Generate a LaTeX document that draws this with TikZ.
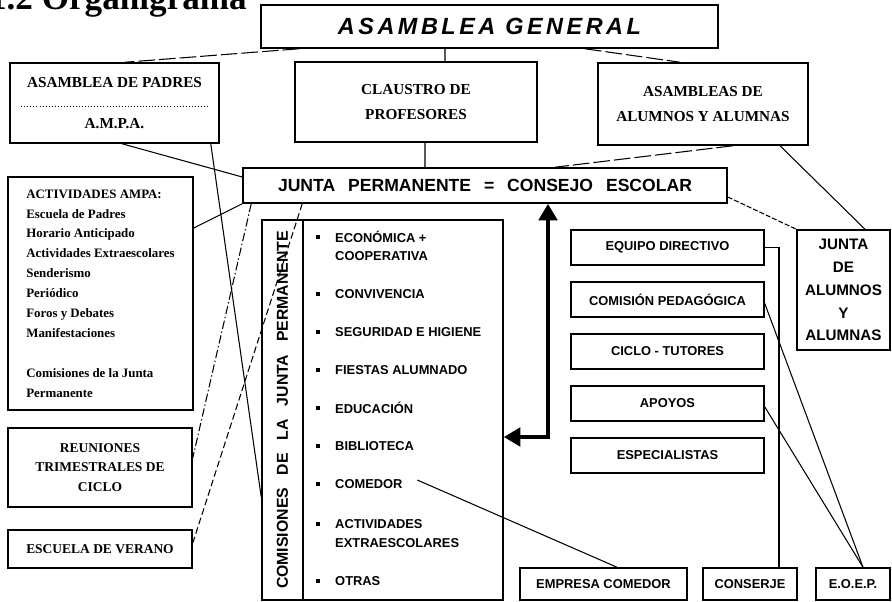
\documentclass[tikz,border=0pt]{standalone}
\usepackage{fontspec}
\setmainfont{Liberation Serif}
\setsansfont{Liberation Sans}
\newfontfamily\agfont[LetterSpace=15]{Liberation Sans}
\usepackage{tikz}
\usetikzlibrary{arrows.meta}

\tikzset{
  boxsize/.style 2 args={minimum width=#1*0.3mm, minimum height=#2*0.3mm},
  box/.style={draw, line width=1.3pt, inner sep=0pt, align=center},
  topbox/.style={box, font=\bfseries\fontsize{13}{21}\selectfont},
  leftbox/.style={box, font=\bfseries\fontsize{11.5}{16.5}\selectfont},
  sbox/.style={box, font=\sffamily\bfseries\fontsize{11}{13}\selectfont},
  item/.style={anchor=west, align=left, inner sep=0pt, font=\sffamily\bfseries\fontsize{11}{15.5}\selectfont},
  bullet/.style={fill, inner sep=0pt, minimum size=1.4mm},
  linea/.style={line width=0.9pt},
  largo/.style={linea, dash pattern=on 5mm off 1.2mm},
  corto/.style={linea, dash pattern=on 1.5mm off 0.6mm},
  trazos/.style={linea, dash pattern=on 2mm off 1mm},
  puntoraya/.style={linea, dash pattern=on 2.5mm off 0.8mm on 0.4mm off 0.8mm},
  flecha/.style={line width=1.3mm, arrows={Triangle[width=5.5mm,length=5mm]-Triangle[width=5.5mm,length=5mm]}}
}

\begin{document}
\begin{tikzpicture}[x=0.3mm, y=-0.3mm]
\useasboundingbox (0,0) rectangle (892,602);

% Title (cut at the top of the page)
\node[anchor=base east, inner sep=0pt, font=\bfseries\fontsize{30}{30}\selectfont] (titulo) at (247,10) {1.2 Organigrama};

% Upper level
\node[box, boxsize={457}{43}, font=\agfont\bfseries\itshape\fontsize{20}{20}\selectfont] (ag) at (489.5,26.5) {ASAMBLEA GENERAL};
\node[topbox, boxsize={209}{80}] (padres) at (114.5,103) {ASAMBLEA DE PADRES\\[14pt]A.M.P.A.};
\node[topbox, boxsize={242}{80}] (claustro) at (416,102) {CLAUSTRO DE\\PROFESORES};
\node[topbox, boxsize={210}{82}] (alumnos) at (703,104) {ASAMBLEAS DE\\ALUMNOS Y ALUMNAS};
\draw[dotted, line width=0.6pt] ([xshift=3.6mm,yshift=-0.9mm]padres.west) -- ([xshift=-3.6mm,yshift=-0.9mm]padres.east);

% Junta permanente
\node[box, boxsize={484}{35}, font=\sffamily\bfseries\fontsize{15}{15}\selectfont] (junta) at (485,185.5)
  {JUNTA\hspace{11pt}PERMANENTE\hspace{11pt}=\hspace{11pt}CONSEJO\hspace{11pt}ESCOLAR};

% Left column
\node[box, boxsize={185}{233}, align=left, font=\bfseries\fontsize{11}{17}\selectfont] (actividades) at (100.5,293.5)
  {ACTIVIDADES AMPA:\\Escuela de Padres\\Horario Anticipado\\Actividades Extraescolares\\Senderismo\\Periódico\\Foros y Debates\\Manifestaciones\\[17pt]Comisiones de la Junta\\Permanente};
\node[leftbox, boxsize={184}{79}] (reuniones) at (100,467.5) {REUNIONES\\TRIMESTRALES DE\\CICLO};
\node[leftbox, boxsize={184}{38}] (verano) at (100,549) {ESCUELA DE VERANO};

% Comisiones
\node[box, boxsize={41}{380}] (comlabel) at (282.5,410) {};
\node[box, boxsize={200}{380}] (comlist) at (403,410) {};
\node[rotate=90, inner sep=0pt, font=\sffamily\bfseries\fontsize{13.5}{13.5}\selectfont] (comtitulo) at (comlabel)
  {COMISIONES\hspace{11pt}DE\hspace{11pt}LA\hspace{11pt}JUNTA\hspace{11pt}PERMANENTE};
\foreach \name/\by/\ty/\txt in {
    economica/237/246/{ECONÓMICA +\\COOPERATIVA},
    convivencia/294/294/{CONVIVENCIA},
    seguridad/332/332/{SEGURIDAD E HIGIENE},
    fiestas/370/370/{FIESTAS ALUMNADO},
    educacion/408/408/{EDUCACIÓN},
    biblioteca/446/446/{BIBLIOTECA},
    comedor/484/484/{COMEDOR},
    extraescolares/524/533.5/{ACTIVIDADES\\EXTRAESCOLARES},
    otras/581/581/{OTRAS}
} {
    \node[bullet] (b-\name) at (318,\by) {};
    \node[item] (\name) at (335,\ty) {\txt};
}

% Right column
\foreach \name/\txt [count=\i from 0] in {equipo/EQUIPO DIRECTIVO, pedagogica/COMISIÓN PEDAGÓGICA,
    ciclo/CICLO - TUTORES, apoyos/APOYOS, especialistas/ESPECIALISTAS}
    \node[sbox, boxsize={193}{35}] (\name) at (667.5,{247.5+52*\i}) {\txt};
\node[sbox, boxsize={93}{120}, font=\sffamily\bfseries\fontsize{13}{19.5}\selectfont] (jalumnos) at (843.5,290)
  {JUNTA\\DE\\ALUMNOS\\Y\\ALUMNAS};

% Bottom row
\node[sbox, boxsize={167}{32}] (empresa) at (603.5,584) {EMPRESA COMEDOR};
\node[sbox, boxsize={94}{32}] (conserje) at (750,584) {CONSERJE};
\node[sbox, boxsize={74}{32}] (eoep) at (853,584) {E.O.E.P.};

% Connections
\draw[linea] ([xshift=8.7mm]claustro.north) -- ([xshift=-13.35mm]ag.south);
\draw[largo] ([xshift=11.7mm]ag.south west) -- ([xshift=3.15mm]padres.north);
\draw[largo] ([xshift=28.65mm]ag.south) -- ([xshift=-6.9mm]alumnos.north);
\draw[linea] ([xshift=2.7mm]claustro.south) -- ([xshift=-18mm]junta.north);
\draw[largo] ([xshift=9mm]alumnos.south) -- ([xshift=21mm]junta.north);
\draw[linea] ([xshift=23.1mm]alumnos.south) -- ([xshift=6.45mm]jalumnos.north);
\draw[corto] ([yshift=-3.45mm]junta.east) -- (jalumnos.north west);
\draw[linea] ([xshift=2.25mm]padres.south) -- ([yshift=2.55mm]junta.west);
\draw[linea] ([xshift=-2.7mm]padres.south east) -- ([yshift=-26.1mm]comlabel.west);
\draw[linea] ([yshift=19.65mm]actividades.east) -- (junta.south west);
\draw[puntoraya] ([xshift=2.7mm]junta.south west) -- ([yshift=2.85mm]reuniones.east);
\draw[trazos] ([xshift=18mm]junta.south west) -- ([yshift=1.8mm]verano.east);
\draw[linea] ([xshift=4.35mm,yshift=1.2mm]comedor.east) -- ([xshift=4.05mm]empresa.north);
\draw[linea] (equipo.east) -| ([xshift=8.7mm]conserje.north);
\draw[linea] ([yshift=-1.2mm]pedagogica.east) -- ([xshift=3mm]eoep.north);
\draw[linea] ([yshift=-1mm]apoyos.east) -- ([xshift=3mm]eoep.north);

% Double arrow between the junta and the comisiones
\coordinate (giro) at (548,437);
\draw[flecha] (giro |- junta.south) -- (giro) -- (giro -| comlist.east);

\end{tikzpicture}
\end{document}
